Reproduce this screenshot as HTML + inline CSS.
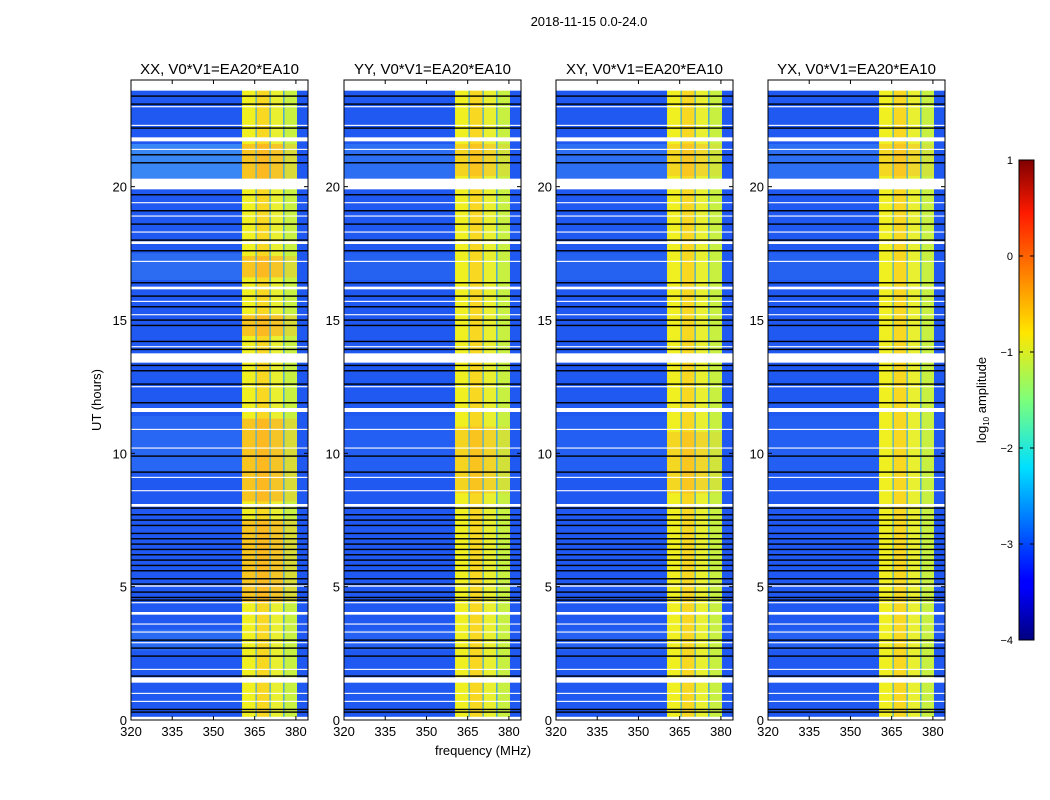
<!DOCTYPE html>
<html><head><meta charset="utf-8"><style>
body{margin:0;background:#fff;}
svg{display:block;font-family:"Liberation Sans",sans-serif;}
</style></head><body>
<svg id="fig" width="1050" height="800" viewBox="0 0 1050 800">
<defs>
<linearGradient id="jet" x1="0" y1="1" x2="0" y2="0">
<stop offset="0" stop-color="#00007f"/><stop offset="0.11" stop-color="#0000ff"/><stop offset="0.125" stop-color="#0000ff"/>
<stop offset="0.36" stop-color="#00e0ff"/><stop offset="0.5" stop-color="#7dff7a"/><stop offset="0.64" stop-color="#ffe600"/>
<stop offset="0.89" stop-color="#ff1a00"/><stop offset="1" stop-color="#7f0000"/>
</linearGradient>
</defs>
<text x="589" y="26" font-size="13" text-anchor="middle">2018-11-15 0.0-24.0</text>
<text x="483" y="755" font-size="13" text-anchor="middle">frequency (MHz)</text>
<text transform="translate(101,400) rotate(-90)" font-size="13" text-anchor="middle">UT (hours)</text>
<g id="panels"></g>
<g id="cbar">
<rect x="1019" y="160" width="15" height="480" fill="url(#jet)" stroke="#000" stroke-width="1"/>
<text transform="translate(986,400) rotate(-90)" font-size="13" text-anchor="middle">log<tspan font-size="8" dy="3">10</tspan><tspan dy="-3"> amplitude</tspan></text>
</g>
</svg>
<script>
const NS="http://www.w3.org/2000/svg";
const panelTitles=["XX, V0*V1=EA20*EA10","YY, V0*V1=EA20*EA10","XY, V0*V1=EA20*EA10","YX, V0*V1=EA20*EA10"];
const panelLefts=[131,344,556,768];
const xTicks=[320,335,350,365,380];
const yTicks=[0,5,10,15,20];
const cbTicks=[1,0,-1,-2,-3,-4];
// frequency sub-bands inside the bright region [start MHz, end MHz, colour]
const bandStarts=[360.4,365.7,370.8,375.8];
const bandEnds=[365.3,370.4,375.4,380.4];
const bandColors=["#f0f020","#f8d820","#e8f030","#c8f040"];
// brighter (warm) time segments per panel [start h, end h]
const warmStart=[[20.2,16.6,14.4,8.2,4.4],[20.4,8.5],[20.4,8.5],[20.4]];
const warmEnd=[[21.6,17.4,15.2,11.3,7.5],[21.6,11.0],[21.6,10.8],[21.6]];
const warmOpacity=[0.55,0.35,0.3,0.3];
// lighter background segments [start h, end h]
const lightStart=[20.3,16.5,9.3,2.6];
const lightEnd=[21.6,17.5,11.4,3.4];
const lightOpacity=[0.9,0.4,0.3,0.35];
// white (flagged) gaps in hours
const gapStart=[23.6,21.7,19.9,17.85,16.15,13.4,11.55,8.0,5.0,3.95,1.4,0.0];
const gapEnd=[24.0,21.85,20.3,17.95,16.25,13.75,11.7,8.1,5.05,4.05,1.6,0.12];
// thin white lines
const thinWhite=[23.0,22.3,21.4,19.4,18.9,18.3,17.2,15.7,15.2,14.0,12.5,10.9,10.2,9.1,8.6,4.4,3.6,3.3,2.9,1.9,1.0,0.7];
// black (zero) lines in hours
const blackLines=[23.4,23.1,22.2,21.75,21.2,20.9,19.7,19.1,18.6,18.0,17.6,16.4,15.9,15.5,15.0,14.8,14.2,13.9,13.3,13.1,12.6,11.9,9.9,9.3,7.95,7.7,7.5,7.3,7.0,6.8,6.6,6.4,6.2,6.0,5.8,5.6,5.3,5.1,4.8,4.6,4.5,3.0,2.7,2.4,1.65,0.4,0.3];
const fMin=320,fMax=384.4,hMin=0,hMax=24;
const pW=177,pTop=80,pH=640;
function mk(tag,attrs,parent){const e=document.createElementNS(NS,tag);for(const k in attrs)e.setAttribute(k,attrs[k]);parent.appendChild(e);return e;}
const panels=document.getElementById('panels');
panelLefts.forEach((L,pi)=>{
  const x=f=>L+(f-fMin)/(fMax-fMin)*pW;
  const y=h=>pTop+(hMax-h)/(hMax-hMin)*pH;
  const g=mk('g',{},panels);
  
  
  const bg=mk('rect',{x:L,y:pTop,width:pW,height:pH,fill:"#2058f2"},g);
  
  
  lightStart.forEach((s,i)=>{
    const r=mk('rect',{x:x(fMin),y:y(lightEnd[i]),width:x(360.4)-x(fMin),height:y(s)-y(lightEnd[i]),fill:"#3c8cf5",opacity:pi==0?lightOpacity[i]:lightOpacity[i]*0.5},g);
    
    
  });
  bandStarts.forEach((s,i)=>{
    const r=mk('rect',{x:x(s),y:pTop,width:x(bandEnds[i])-x(s),height:pH,fill:bandColors[i]},g);
    
    
    warmStart[pi].forEach((ws,j)=>{
      const w=mk('rect',{x:x(s),y:y(warmEnd[pi][j]),width:x(bandEnds[i])-x(s),height:y(ws)-y(warmEnd[pi][j]),fill:"#ffa020",opacity:i==3?warmOpacity[pi]*0.5:warmOpacity[pi]},g);
      
      
    });
  });
  bandEnds.slice(0,3).forEach((e,i)=>{
    const r=mk('rect',{x:x(e),y:pTop,width:x(bandStarts[i+1])-x(e),height:pH,fill:"#40b0e0"},g);
    
    
  });
  thinWhite.forEach(h=>{
    const r=mk('rect',{x:L,y:y(h)-0.5,width:pW,height:1.1,fill:"#fff"},g);
    
    
  });
  blackLines.forEach(h=>{
    const r=mk('rect',{x:L,y:y(h)-0.6,width:pW,height:1.4,fill:"#000"},g);
    
    
  });
  gapStart.forEach((s,i)=>{
    const r=mk('rect',{x:L,y:y(gapEnd[i]),width:pW,height:y(s)-y(gapEnd[i]),fill:"#fff"},g);
    
    
  });
  const fr=mk('rect',{x:L,y:pTop,width:pW,height:pH,fill:"none",stroke:"#000","stroke-width":1},g);
  
  
  const t=mk('text',{x:L+pW/2,y:74,"font-size":15,"text-anchor":"middle"},g);
  t.textContent=panelTitles[pi];
  
  
  xTicks.forEach(f=>{
    mk('line',{x1:x(f),x2:x(f),y1:pTop+pH,y2:pTop+pH-4,stroke:"#000"},g);
    mk('line',{x1:x(f),x2:x(f),y1:pTop,y2:pTop+4,stroke:"#000"},g);
    const tl=mk('text',{x:x(f),y:pTop+pH+16,"font-size":13,"text-anchor":"middle"},g);
    tl.textContent=f;
    
    
  });
  yTicks.forEach(h=>{
    mk('line',{x1:L,x2:L+4,y1:y(h),y2:y(h),stroke:"#000"},g);
    mk('line',{x1:L+pW,x2:L+pW-4,y1:y(h),y2:y(h),stroke:"#000"},g);
    const tl=mk('text',{x:L-4,y:y(h)+5,"font-size":13,"text-anchor":"end"},g);
    tl.textContent=h;
    
    
  });
});
const cb=document.getElementById('cbar');
cbTicks.forEach(v=>{
  const yy=160+(1-v)/5*480;
  mk('line',{x1:1019,x2:1023,y1:yy,y2:yy,stroke:"#000"},cb);
  mk('line',{x1:1030,x2:1034,y1:yy,y2:yy,stroke:"#000"},cb);
  const tl=mk('text',{x:1013,y:yy+4,"font-size":11,"text-anchor":"end"},cb);
  tl.textContent=v<0?"\u2212"+(-v):String(v);
  
  
});
</script>
</body></html>
